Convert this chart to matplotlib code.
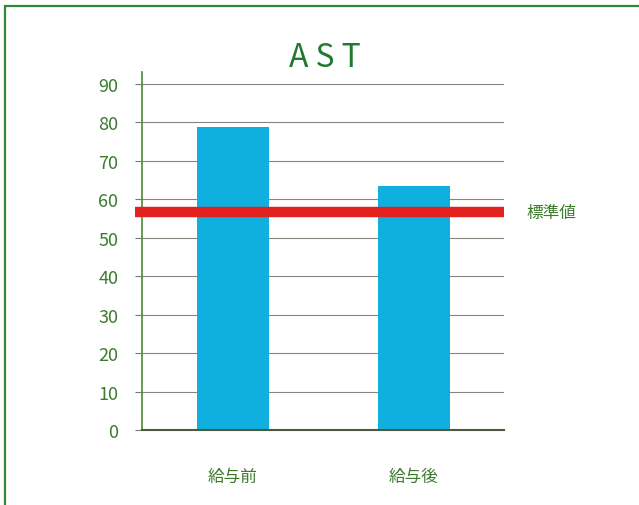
import matplotlib.pyplot as plt
from matplotlib.patches import Rectangle

plt.rcParams['font.family'] = ['Noto Sans CJK JP', 'DejaVu Sans']

# data
categories = ['給与前', '給与後']
values = [78.7, 63.3]
standard = 56.6
yticks = [0, 10, 20, 30, 40, 50, 60, 70, 80, 90]

green = '#3d7a2e'
dark_green = '#1f7a30'
bar_color = '#0fafe0'

fig = plt.figure(figsize=(6.39, 5.06), dpi=100)
fig.patches.append(Rectangle((5 / 639, -0.02), 1.0, 1 - 7 / 506 + 0.02,
                             transform=fig.transFigure, fill=False,
                             edgecolor='#2e8a3a', linewidth=1.6))

ax = fig.add_axes([142 / 639, 1 - 431 / 506, 362 / 639, 358 / 506])
x = range(len(categories))
ax.bar(x, values, width=0.40, color=bar_color, zorder=2)

# standard value band
ax.plot([-0.54, 1.497], [standard, standard], color='#e3221f', linewidth=7.5,
        solid_capstyle='butt', zorder=3, clip_on=False)
ax.text(1.62, standard, '標準値', color=green, fontsize=12, va='center',
        ha='left')

ax.set_xlim(-0.503, 1.497)
ax.set_ylim(0, 93)
ax.set_yticks(yticks)
ax.set_yticklabels([str(v) for v in yticks], color=green, fontsize=13)
ax.set_xticks(list(x))
ax.set_xticklabels(categories, color=green, fontsize=12)
ax.tick_params(axis='x', length=0, pad=27)
ax.tick_params(axis='y', length=5, width=0.8, color='#777770', pad=12)
ax.yaxis.grid(True, color='#85857a', linewidth=0.8, zorder=1)
ax.set_axisbelow(True)

for side in ['top', 'right']:
    ax.spines[side].set_visible(False)
ax.spines['left'].set_color('#4d8a35')
ax.spines['left'].set_linewidth(1.2)
ax.spines['bottom'].set_color('#4a5a40')
ax.spines['bottom'].set_linewidth(1.5)

fig.text(325 / 639, 1 - 58 / 506, 'A S T', color=dark_green, fontsize=23,
         ha='center', va='center')

fig.savefig('out.png', dpi=100)
